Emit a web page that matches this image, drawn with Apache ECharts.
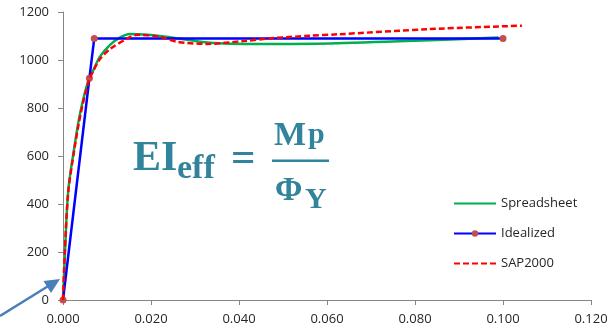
<!DOCTYPE html>
<html><head><meta charset="utf-8">
<script src="https://cdn.jsdelivr.net/npm/echarts@6/dist/echarts.min.js"></script>
<style>html,body{margin:0;padding:0;background:#fff}#c{width:615px;height:332px}</style>
</head><body><div id="c"></div>
<script>
var seriesNames = ['Spreadsheet', 'Idealized', 'SAP2000'];
var xTicks = [0, 0.02, 0.04, 0.06, 0.08, 0.10, 0.12];
var yTicks = [0, 200, 400, 600, 800, 1000, 1200];
var spreadsheetX = [0, 0.00045, 0.0012, 0.0026, 0.0039, 0.0058, 0.0069, 0.0084, 0.0107, 0.0130, 0.0152, 0.0220, 0.0334, 0.0448, 0.0607, 0.0800, 0.0990];
var spreadsheetY = [0, 196, 458, 639, 779, 917, 958, 1014, 1063, 1094, 1108, 1100, 1072, 1067, 1069, 1080, 1094];
var idealizedX = [0, 0.0060, 0.0071, 0.1000];
var idealizedY = [0, 924, 1090, 1090];
var sapX = [0, 0.0004, 0.0012, 0.0026, 0.0040, 0.0058, 0.0069, 0.0084, 0.0107, 0.0152, 0.0170, 0.0220, 0.0260, 0.0327, 0.0410, 0.0470, 0.0560, 0.0625, 0.0834, 0.1043];
var sapY = [0, 196, 450, 630, 775, 910, 955, 1004, 1046, 1095, 1105, 1097, 1076, 1067, 1079, 1090, 1101, 1107, 1129, 1143];

function pairs(xs, ys) { return xs.map(function (x, i) { return [x, ys[i]]; }); }

var teal = '#31849B';
function eqText(t, x, y, size, fam) {
  return { type: 'text', style: { text: t, x: x, y: y, font: 'bold ' + size + 'px ' + (fam || '"Liberation Serif"'), fill: teal, align: 'left', verticalAlign: 'middle' }, z: 100 };
}

var chart = echarts.init(document.getElementById('c'), null, { renderer: 'canvas' });
chart.setOption({
  animation: false,
  backgroundColor: '#ffffff',
  grid: { left: 63, right: 24, top: 12, bottom: 32, containLabel: false },
  xAxis: {
    type: 'value', min: xTicks[0], max: xTicks[xTicks.length - 1], interval: 0.02,
    axisLine: { show: true, onZero: false, lineStyle: { color: '#868686', width: 1 } },
    axisTick: { show: true, inside: false, length: 5, lineStyle: { color: '#868686' } },
    splitLine: { show: false },
    axisLabel: { margin: 13, color: '#262626', fontFamily: 'Open Sans', fontSize: 13, formatter: function (v) { return v.toFixed(3); } }
  },
  yAxis: {
    type: 'value', min: yTicks[0], max: yTicks[yTicks.length - 1], interval: 200,
    axisLine: { show: true, lineStyle: { color: '#868686', width: 1 } },
    axisTick: { show: true, inside: false, length: 5, lineStyle: { color: '#868686' } },
    splitLine: { show: false },
    axisLabel: { margin: 14, color: '#262626', fontFamily: 'Open Sans', fontSize: 13, formatter: function (v) { return String(v); } }
  },
  legend: {
    data: [
      { name: seriesNames[0], itemStyle: { opacity: 0 } },
      { name: seriesNames[1] },
      { name: seriesNames[2], itemStyle: { opacity: 0 } }
    ],
    orient: 'vertical', left: 453, top: 197, padding: 0,
    itemWidth: 42, itemHeight: 8, itemGap: 17,
    textStyle: { fontFamily: 'Open Sans', fontSize: 13, lineHeight: 12, color: '#262626' }
  },
  series: [
    { name: seriesNames[0], type: 'line', data: pairs(spreadsheetX, spreadsheetY), smooth: 0.3, symbol: 'none',
      lineStyle: { color: '#00B050', width: 2.5 }, itemStyle: { color: '#00B050' }, z: 2 },
    { name: seriesNames[1], type: 'line', data: pairs(idealizedX, idealizedY), smooth: false, symbol: 'circle', symbolSize: 7, showSymbol: true,
      lineStyle: { color: '#0000FF', width: 2.5 }, itemStyle: { color: '#C0504D' }, z: 3 },
    { name: seriesNames[2], type: 'line', data: pairs(sapX, sapY), smooth: 0.3, symbol: 'none',
      lineStyle: { color: '#FF0000', width: 2.5, type: [6, 3] }, itemStyle: { color: '#FF0000' }, z: 4 }
  ],
  graphic: [
    eqText('EI', 133, 159.4, 42),
    eqText('eff', 177, 168.8, 34),
    eqText('=', 231, 159.4, 43),
    eqText('M', 274, 136, 34),
    eqText('p', 308, 135.5, 30),
    eqText('\u03A6', 275, 191, 33),
    eqText('Y', 305, 200, 30),
    { type: 'rect', shape: { x: 272, y: 159.5, width: 57, height: 2.5 }, style: { fill: teal }, z: 100 },
    { type: 'line', shape: { x1: 0, y1: 316, x2: 50, y2: 285 }, style: { stroke: '#4A7EBB', lineWidth: 2.5 }, z: 100 },
    { type: 'polygon', shape: { points: [[60, 279], [43.5, 281], [51, 293]] }, style: { fill: '#4A7EBB' }, z: 100 }
  ]
});
</script></body></html>
